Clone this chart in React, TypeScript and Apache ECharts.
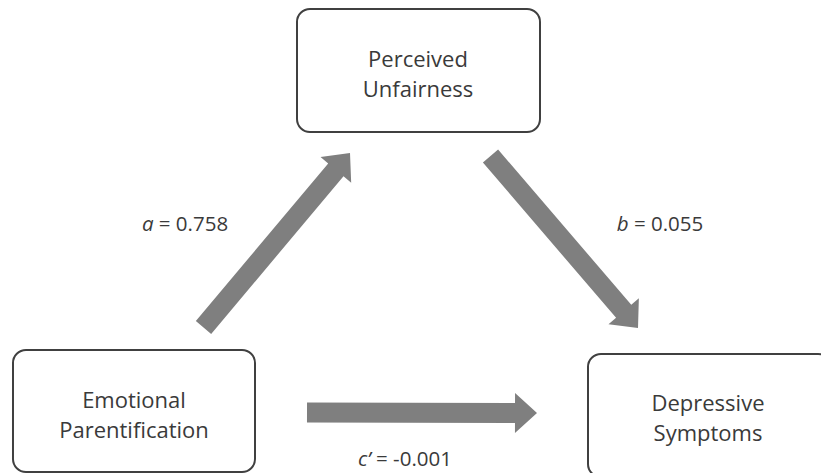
import React, { useEffect, useRef } from "react";
import * as echarts from "echarts";

// Data
const nodeLabels = ["Perceived\nUnfairness", "Emotional\nParentification", "Depressive\nSymptoms"];
const pathNames = ["a", "b", "c’"];
const pathCoefficients = [0.758, 0.055, -0.001];

// Layout (pixels)
const boxes = [
  { x: 297, y: 9, w: 243, h: 123, tx: 418, ty: 73 },
  { x: 13, y: 350, w: 242, h: 122, tx: 134, ty: 414 },
  { x: 588, y: 354, w: 243, h: 123, tx: 708, ty: 417 },
];
const arrows = [
  { tx: 203.5, ty: 327.5, hx: 350, hy: 153 },
  { tx: 490.5, ty: 156, hx: 638, hy: 328 },
  { tx: 307, ty: 412.5, hx: 537, hy: 413 },
];
const labelPos = [
  { x: 185, y: 223 },
  { x: 660, y: 223 },
  { x: 405, y: 458 },
];

function arrowPoints(a: any, sw = 20, hw = 40, hl = 22) {
  const dx = a.hx - a.tx, dy = a.hy - a.ty;
  const L = Math.hypot(dx, dy);
  const ux = dx / L, uy = dy / L;
  const nx = -uy, ny = ux;
  const bx = a.hx - ux * hl, by = a.hy - uy * hl;
  return [
    [a.tx + nx * sw / 2, a.ty + ny * sw / 2],
    [bx + nx * sw / 2, by + ny * sw / 2],
    [bx + nx * hw / 2, by + ny * hw / 2],
    [a.hx, a.hy],
    [bx - nx * hw / 2, by - ny * hw / 2],
    [bx - nx * sw / 2, by - ny * sw / 2],
    [a.tx - nx * sw / 2, a.ty - ny * sw / 2],
  ];
}

const FONT = "'Open Sans', sans-serif";
const TEXT_COLOR = "#3a3a3a";

export default function App() {
  const ref = useRef<HTMLDivElement>(null);
  useEffect(() => {
    document.body.style.margin = "0";
    const chart = echarts.init(ref.current!, null, { renderer: "svg" });
    const elements: any[] = [];
    boxes.forEach((b, i) => {
      elements.push({
        type: "rect",
        shape: { x: b.x, y: b.y, width: b.w, height: b.h, r: 13 },
        style: { fill: "#ffffff", stroke: "#404040", lineWidth: 2 },
      });
      elements.push({
        type: "text",
        x: b.tx,
        y: b.ty,
        style: {
          text: nodeLabels[i],
          fill: TEXT_COLOR,
          fontFamily: FONT,
          fontSize: 22,
          lineHeight: 30,
          align: "center",
          verticalAlign: "middle",
        },
      });
    });
    arrows.forEach((a) => {
      elements.push({
        type: "polygon",
        shape: { points: arrowPoints(a) },
        style: { fill: "#7f7f7f" },
      });
    });
    pathNames.forEach((n, i) => {
      elements.push({
        type: "text",
        x: labelPos[i].x,
        y: labelPos[i].y,
        style: {
          text: `{i|${n}} = ${pathCoefficients[i].toFixed(3)}`,
          fill: TEXT_COLOR,
          fontFamily: FONT,
          fontSize: 20.5,
          align: "center",
          verticalAlign: "middle",
          rich: {
            i: { fontStyle: "italic", fontFamily: FONT, fontSize: 20.5, fill: TEXT_COLOR },
          },
        },
      });
    });
    chart.setOption({
      animation: false,
      backgroundColor: "#ffffff",
      graphic: { elements },
    });
    return () => chart.dispose();
  }, []);
  return <div ref={ref} style={{ width: 821, height: 473 }} />;
}
